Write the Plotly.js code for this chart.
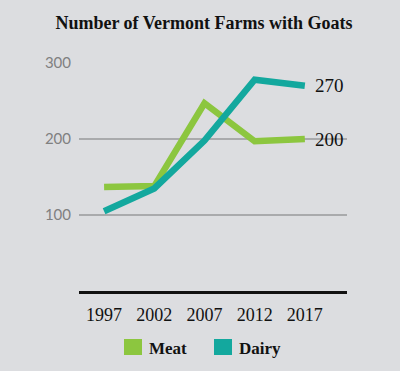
<!DOCTYPE html>
<html>
<head>
<meta charset="utf-8">
<script src="https://cdn.plot.ly/plotly-3.0.1.min.js"></script>
<style>
html,body{margin:0;padding:0;background:#dcdde0;}
#chart{width:400px;height:371px;}
</style>
</head>
<body>
<div id="chart"></div>
<script>
const years = [1997, 2002, 2007, 2012, 2017];
const meat = [137, 138, 247, 197, 200];
const dairy = [105, 135, 198, 278, 270];
const seriesNames = ["Meat", "Dairy"];
const seriesColors = ["#8cc63f", "#13a89e"];
const yTicks = [100, 200, 300];

const serif = "Liberation Serif, Times New Roman, serif";

const traces = [
  {x: years, y: meat, name: seriesNames[0], mode: "lines", line: {color: seriesColors[0], width: 6.5}, showlegend: false, hoverinfo: "skip"},
  {x: years, y: dairy, name: seriesNames[1], mode: "lines", line: {color: seriesColors[1], width: 6.5}, showlegend: false, hoverinfo: "skip"}
];

const last = years.length - 1;
const annotations = [
  {x: years[last], y: dairy[last], xref: "x", yref: "y", text: String(dairy[last]), showarrow: false, xanchor: "left", yanchor: "middle", xshift: 8, font: {family: serif, size: 19, color: "#111"}},
  {x: years[last], y: meat[last], xref: "x", yref: "y", text: String(meat[last]), showarrow: false, xanchor: "left", yanchor: "middle", xshift: 8, font: {family: serif, size: 19, color: "#111"}},
  {x: 0.2537, y: -0.25, xref: "paper", yref: "paper", text: "<b>" + seriesNames[0] + "</b>", showarrow: false, xanchor: "left", yanchor: "middle", font: {family: serif, size: 17, color: "#111"}},
  {x: 0.5896, y: -0.25, xref: "paper", yref: "paper", text: "<b>" + seriesNames[1] + "</b>", showarrow: false, xanchor: "left", yanchor: "middle", font: {family: serif, size: 17, color: "#111"}}
];

const shapes = [
  {type: "rect", xref: "paper", yref: "paper", x0: 0.1679, x1: 0.2351, y0: -0.2807, y1: -0.2105, fillcolor: seriesColors[0], line: {width: 0}},
  {type: "rect", xref: "paper", yref: "paper", x0: 0.5037, x1: 0.5709, y0: -0.2807, y1: -0.2105, fillcolor: seriesColors[1], line: {width: 0}}
];

const layout = {
  width: 400, height: 371,
  paper_bgcolor: "#dcdde0", plot_bgcolor: "#dcdde0",
  margin: {l: 79, r: 53, t: 63, b: 80},
  title: {text: "<b>Number of Vermont Farms with Goats</b>", x: 0.51, xanchor: "center", xref: "container", y: 0.94, yref: "container", yanchor: "middle", font: {family: serif, size: 18, color: "#111"}},
  xaxis: {
    range: [1994.5, 2021.2], tickvals: years, ticktext: years.map(String),
    showgrid: false, zeroline: false, showline: true, linecolor: "#111", linewidth: 3,
    ticks: "", ticklabelstandoff: 5,
    tickfont: {family: serif, size: 18, color: "#111"}, fixedrange: true
  },
  yaxis: {
    range: [0, 300], tickvals: yTicks, ticktext: yTicks.map(String),
    showgrid: true, gridcolor: "#a9aaac", gridwidth: 2.5, zeroline: false, showline: false,
    ticks: "", ticklabelstandoff: 7,
    tickfont: {family: "Lato, sans-serif", size: 15, color: "#808080"}, fixedrange: true
  },
  annotations: annotations,
  shapes: shapes,
  showlegend: false
};

Plotly.newPlot("chart", traces, layout, {displayModeBar: false, staticPlot: true});
</script>
</body>
</html>
